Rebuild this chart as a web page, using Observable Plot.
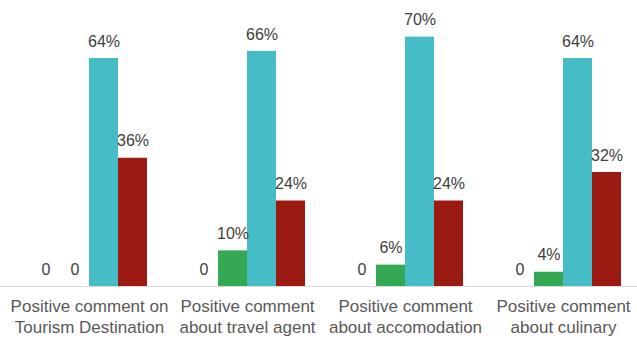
<!DOCTYPE html>
<html>
<head>
<meta charset="utf-8">
<script src="https://cdn.jsdelivr.net/npm/d3@7"></script>
<script src="https://cdn.jsdelivr.net/npm/@observablehq/plot@0.6"></script>
<style>
  html, body { margin: 0; padding: 0; background: #ffffff; }
  #chart svg { display: block; }
</style>
</head>
<body>
<div id="chart"></div>
<script>
// Categories of positive comments (two-line labels)
const categories = [
  "Positive comment on\nTourism Destination",
  "Positive comment\nabout travel agent",
  "Positive comment\nabout accomodation",
  "Positive comment\nabout culinary"
];

// Series, drawn left to right inside each group
const seriesNames = ["Series 1", "Series 2", "Series 3", "Series 4"];
const seriesColors = ["#7f7f7f", "#34a853", "#45bcc6", "#9b1b12"];

// Percent values per series, one per category
const series1 = [0, 0, 0, 0];
const series2 = [0, 10, 6, 4];
const series3 = [64, 66, 70, 64];
const series4 = [36, 24, 24, 32];

const allSeries = [series1, series2, series3, series4];
const data = [];
categories.forEach((c, i) => {
  seriesNames.forEach((s, j) => {
    data.push({category: c, series: s, value: allSeries[j][i]});
  });
});

const fmt = v => v === 0 ? "0" : `${v}%`;

const chart = Plot.plot({
  width: 637,
  height: 338,
  marginTop: 1,
  marginBottom: 52,
  marginLeft: 0,
  marginRight: 0,
  style: {fontFamily: "'Liberation Sans', Arial, sans-serif", fontSize: "16px", background: "#ffffff"},
  fx: {domain: categories, paddingInner: 0.2658, paddingOuter: 0.1487, align: 0.66, axis: null, label: null},
  x: {domain: seriesNames, padding: 0, axis: null},
  y: {domain: [0, 80], axis: null},
  color: {domain: seriesNames, range: seriesColors},
  marks: [
    Plot.barY(data, {fx: "category", x: "series", y: "value", fill: "series"}),
    Plot.ruleY([0], {stroke: "#d9d9d9", strokeWidth: 1, insetLeft: -40, insetRight: -40}),
    Plot.text(data, {
      fx: "category", x: "series", y: "value",
      text: d => fmt(d.value),
      dy: -17, fill: "#404040", fontSize: 16
    }),
    Plot.text(categories, {
      fx: d => d, text: d => d,
      frameAnchor: "bottom", lineAnchor: "top", dy: 10,
      lineHeight: 1.25, fill: "#595959", fontSize: 17
    })
  ]
});

document.getElementById("chart").appendChild(chart);
</script>
</body>
</html>
